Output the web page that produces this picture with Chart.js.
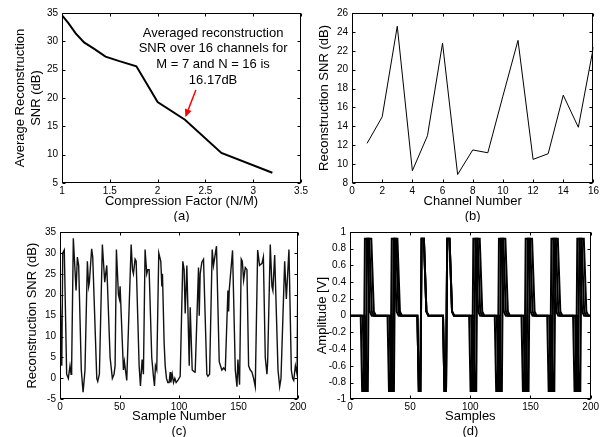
<!DOCTYPE html>
<html>
<head>
<meta charset="utf-8">
<script src="https://cdn.jsdelivr.net/npm/chart.js@4"></script>
<style>
  html, body { margin: 0; padding: 0; background: #fff; }
  #wrap { position: relative; width: 601px; height: 437px; overflow: hidden; }
  canvas { position: absolute; }
</style>
</head>
<body>
<div id="wrap">
  <canvas id="chartA" width="310" height="222" style="left:0px;top:0px"></canvas>
  <canvas id="chartB" width="291" height="222" style="left:310px;top:0px"></canvas>
  <canvas id="chartC" width="310" height="215" style="left:0px;top:222px"></canvas>
  <canvas id="chartD" width="291" height="215" style="left:310px;top:222px"></canvas>
</div>
<script>
// (a) average SNR against compression factor N/M (N = 16, M = 16 .. 5)
const compressionFactor = [1, 1.067, 1.143, 1.231, 1.333, 1.455, 1.6, 1.778, 2, 2.286, 2.667, 3.2];
const avgSnr = [34.6, 33.2, 31.4, 29.8, 28.7, 27.3, 26.5, 25.6, 19.3, 16.17, 10.3, 6.8];

// (b) reconstruction SNR per channel
const channels = [1, 2, 3, 4, 5, 6, 7, 8, 9, 10, 11, 12, 13, 14, 15, 16];
const channelSnr = [12.2, 15.0, 24.6, 9.3, 13.0, 22.8, 8.9, 11.5, 11.2, 17.2, 23.1, 10.5, 11.1, 17.3, 13.9, 22.4];

// (c) reconstruction SNR per sample (turning points)
const cSample = [0,1.5,2.3,3.6,5.6,7,8.4,9.3,9.8,11.2,
  13.5,14.6,15.7,17.9,19.4,21,23,24.1,24.7,26.6,
  27.5,30.9,31.7,33.1,35.6,37.6,38.4,39.3,42.1,44,
  45.4,46.3,47.4,49.1,49.9,50.5,53.3,54.1,56.1,59.8,
  60.9,61.7,63.1,64,66.5,67.6,69,70.1,71.5,72.9,
  73.8,74.9,77.1,78.5,79.4,80.2,81.3,83,84.7,85.6,
  86.1,87.5,88.4,89.5,90.6,91.7,92.6,93.1,94.3,95.4,
  96.5,97.6,99,101,103.2,104.3,105.2,106.6,108.6,109.4,
  111.1,113,113.6,116.4,117,117.8,119.2,120.6,123.4,124.3,
  125.7,127.9,129,131.5,133.8,136,137.5,138.9,141.1,141.7,
  142.2,145,147.3,148.7,149.5,150.9,152.3,153.2,154.3,155.7,
  157.1,158.5,159.9,161.3,162.7,164.1,166.1,167.7,169.7,170.9,
  172.5,173.9,174.5,176.7,178.1,178.9,180.4,183.2,184.6,185.7,
  188.8,190.2,192.4,194.4,195.5,196.4,197.8,199.2,200];
const cSnr = [21,3,30,30.7,1,0,3,1,3,33.5,
  21,29,27,2,-3.3,2,28,22,23,31,
  29,0,-0.7,1,32,23,25,27,5,0,
  1,3,30.8,20,19,22,2,4,-0.5,32,
  26,25,28.5,28,3,-1.8,4.5,1,30.8,25,
  26,26,5,0.5,-1.8,3,2,30,28,22,
  25,8.5,3,0,-1,-1,1.5,-1,1,-1,
  0,-1,-0.5,0.5,28,26,15.5,27,3,17,
  2,1.5,1.5,26.5,15,25,27.8,28.5,1,0.5,
  1,30.8,27,31.6,4,2,2.5,2,21,16,
  21,30.6,2,-2,4.5,-1.5,28.5,28,23.5,26.5,
  26,3,2,1.5,0,-2,30.7,27,27.5,29,
  5,1,4,32,22,21,29.5,2,-2,0,
  28,19,30.8,2,0,-0.5,3,1,30];

// (d) overlaid spike waveforms: spike onsets of each trace and the spike shape
const dOnsetsA = [10.1, 32.4, 57.2, 78.5, 100.2, 121.5, 143.7, 165.1, 186.6];
const dOnsetsB = [11.8, 34.0, 57.2, 78.5, 101.9, 123.2, 145.4, 166.8, 188.3];
const dOnsetsC = [13.5, 35.2, 57.2, 78.5, 103.6, 124.9, 147.1, 168.5, 190.1];
const spikeOffset = [-1.2, 0, 1.3, 2.3, 4.2, 6.3, 8];
const spikeValue = [0, -0.9, -0.9, 0.92, 0.92, 0.05, 0];

const FONT = "'Liberation Sans', Arial, Helvetica, sans-serif";

// MATLAB style box with inward tick marks on all four sides
const boxTicks = {
  id: 'boxTicks',
  afterDraw(chart) {
    const { ctx, chartArea: a, scales } = chart;
    const L = Math.round(a.left) + 0.5, R = Math.round(a.right) - 0.5;
    const T = Math.round(a.top) + 0.5, B = Math.round(a.bottom) - 0.5;
    ctx.save();
    ctx.strokeStyle = '#000';
    ctx.lineWidth = 1;
    ctx.beginPath();
    scales.x.ticks.forEach(t => {
      const px = Math.round(scales.x.getPixelForValue(t.value)) + 0.5;
      ctx.moveTo(px, B); ctx.lineTo(px, B - 3);
      ctx.moveTo(px, T); ctx.lineTo(px, T + 3);
    });
    scales.y.ticks.forEach(t => {
      const py = Math.round(scales.y.getPixelForValue(t.value)) + 0.5;
      ctx.moveTo(L, py); ctx.lineTo(L + 3, py);
      ctx.moveTo(R, py); ctx.lineTo(R - 3, py);
    });
    ctx.stroke();
    ctx.strokeRect(L, T, R - L, B - T);
    ctx.restore();
  }
};

// text and red arrow of panel (a)
const noteLines = ['Averaged reconstruction', 'SNR over 16 channels for', 'M = 7 and N = 16 is', '16.17dB'];
const noteBox = {
  id: 'noteBox',
  afterDatasetsDraw(chart) {
    const { ctx, scales: { x, y } } = chart;
    const noteY = [30.8, 28.1, 25.35, 22.5];
    ctx.save();
    ctx.fillStyle = '#000';
    ctx.font = '13px ' + FONT;
    ctx.textAlign = 'center';
    ctx.textBaseline = 'alphabetic';
    noteLines.forEach((s, i) => ctx.fillText(s, x.getPixelForValue(2.58), y.getPixelForValue(noteY[i])));
    const x0 = x.getPixelForValue(2.40), y0 = y.getPixelForValue(21.4);
    const x1 = x.getPixelForValue(2.29), y1 = y.getPixelForValue(16.6);
    const ang = Math.atan2(y1 - y0, x1 - x0), hl = 8, hw = 3.5;
    const bx = x1 - hl * Math.cos(ang), by = y1 - hl * Math.sin(ang);
    ctx.strokeStyle = '#f00';
    ctx.fillStyle = '#f00';
    ctx.lineWidth = 1.5;
    ctx.beginPath(); ctx.moveTo(x0, y0); ctx.lineTo(bx, by); ctx.stroke();
    ctx.beginPath();
    ctx.moveTo(x1, y1);
    ctx.lineTo(bx + hw * Math.sin(ang), by - hw * Math.cos(ang));
    ctx.lineTo(bx - hw * Math.sin(ang), by + hw * Math.cos(ang));
    ctx.closePath(); ctx.fill();
    ctx.restore();
  }
};

function pts(xs, ys) {
  return xs.map((v, i) => ({ x: v, y: ys[i] }));
}

function spikeTrace(onsets) {
  const out = [{ x: 0, y: 0 }];
  onsets.forEach(t0 => spikeOffset.forEach((o, i) => out.push({ x: t0 + o, y: spikeValue[i] })));
  out.push({ x: 200, y: 0 });
  return out;
}

function line(data, width, color) {
  return { data, borderColor: color, borderWidth: width, pointRadius: 0, tension: 0, fill: false };
}

// matlab-like labels: 1, 1.5, 0.8, -1 (no trailing zeros)
const tickText = v => String(parseFloat(Number(v).toFixed(3)));

function panel(id, o) {
  return new Chart(document.getElementById(id), {
    type: 'line',
    data: { datasets: o.datasets },
    options: {
      responsive: false,
      animation: false,
      events: [],
      layout: { padding: o.padding },
      plugins: { legend: { display: false }, tooltip: { enabled: false } },
      scales: {
        x: {
          type: 'linear', min: o.x[0], max: o.x[1],
          ticks: { stepSize: o.x[2], padding: 2, color: '#000', font: { family: FONT, size: 10 }, maxRotation: 0, autoSkip: false, callback: tickText },
          grid: { display: false, drawTicks: false },
          border: { display: false },
          title: { display: true, text: [o.xTitle, o.caption], color: '#000', font: { family: FONT, size: 13, lineHeight: 1.19 }, padding: { top: 0, bottom: o.capPad } },
          afterFit: s => { s.height = o.xHeight; }
        },
        y: {
          type: 'linear', min: o.y[0], max: o.y[1],
          ticks: { stepSize: o.y[2], padding: 4, color: '#000', font: { family: FONT, size: 10 }, autoSkip: false, callback: tickText },
          grid: { display: false, drawTicks: false },
          border: { display: false },
          title: { display: true, text: o.yTitle, color: '#000', font: { family: FONT, size: 13, lineHeight: 1.25 }, padding: { top: o.yPad, bottom: 0 } },
          afterFit: s => { s.width = o.yWidth; }
        }
      }
    },
    plugins: [boxTicks].concat(o.plugins || [])
  });
}

panel('chartA', {
  datasets: [line(pts(compressionFactor, avgSnr), 2, '#000')],
  x: [1, 3.5, 0.5], y: [5, 35, 5],
  xTitle: 'Compression Factor (N/M)', caption: '(a)',
  yTitle: ['Average Reconstruction', 'SNR (dB)'],
  padding: { left: 0, right: 8, top: 13, bottom: 0 },
  xHeight: 39, yWidth: 62, yPad: 12, capPad: -2.25,
  plugins: [noteBox]
});

panel('chartB', {
  datasets: [line(pts(channels, channelSnr), 1, '#000')],
  x: [0, 16, 2], y: [8, 26, 2],
  xTitle: 'Channel Number', caption: '(b)',
  yTitle: 'Reconstruction SNR (dB)',
  padding: { left: 0, right: 7, top: 13, bottom: 0 },
  xHeight: 39, yWidth: 42, yPad: 6.5, capPad: -2.25
});

panel('chartC', {
  datasets: [line(pts(cSample, cSnr), 1.4, '#111')],
  x: [0, 200, 50], y: [-5, 35, 5],
  xTitle: 'Sample Number', caption: '(c)',
  yTitle: 'Reconstruction SNR (dB)',
  padding: { left: 0, right: 12, top: 8, bottom: 0 },
  xHeight: 37.7, yWidth: 60, yPad: 24.4, capPad: -2.5
});

panel('chartD', {
  datasets: [
    line(spikeTrace(dOnsetsA), 2, '#000'),
    line(spikeTrace(dOnsetsB), 2, '#000'),
    line(spikeTrace(dOnsetsC), 2, '#000')
  ],
  x: [0, 200, 50], y: [-1, 1, 0.2],
  xTitle: 'Samples', caption: '(d)',
  yTitle: 'Amplitude [V]',
  padding: { left: 0, right: 10, top: 8, bottom: 0 },
  xHeight: 37.7, yWidth: 40, yPad: 4.4, capPad: -2.5
});
</script>
</body>
</html>
